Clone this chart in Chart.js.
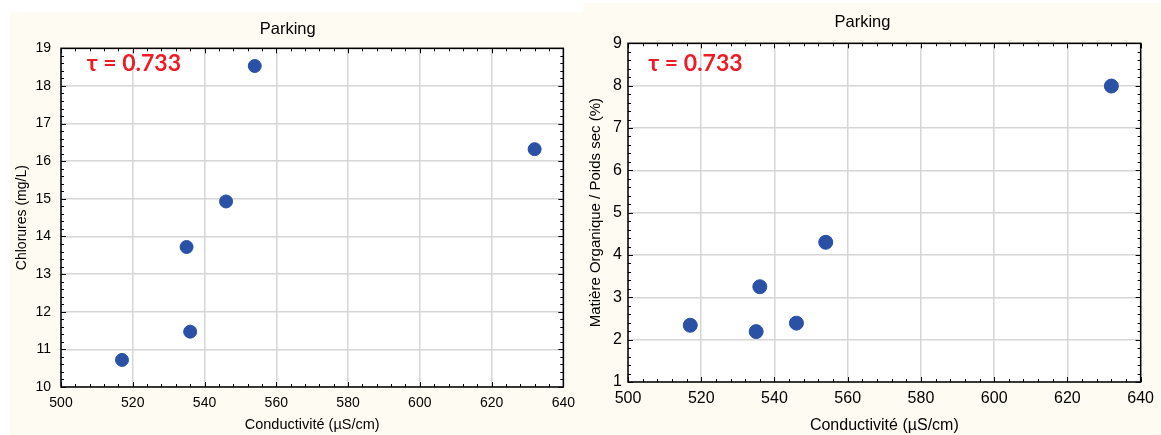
<!DOCTYPE html>
<html>
<head>
<meta charset="utf-8">
<script src="https://cdn.jsdelivr.net/npm/chart.js@4.4.1/dist/chart.umd.min.js"></script>
<style>
  html, body { margin: 0; padding: 0; background: #fff; }
  body { width: 1161px; height: 435px; position: relative; overflow: hidden; }
  .panel { position: absolute; background: #fefbf3; }
  #leftBox { left: 10px; top: 12px; width: 573px; height: 423px; }
  #rightBox { left: 583px; top: 3px; width: 578px; height: 432px; }
</style>
</head>
<body>
<div class="panel" id="leftBox"><canvas id="chlorChart" width="573" height="423"></canvas></div>
<div class="panel" id="rightBox"><canvas id="moChart" width="578" height="432"></canvas></div>
<script>
// data (same samples, same x)
const conductivite = [517, 535, 536, 546, 554, 632];
const chlorures = [10.72, 13.72, 11.47, 14.93, 18.53, 16.32];
const matiereOrg = [2.34, 2.19, 3.25, 2.39, 4.30, 7.99];

// tick labels
const xTicks = [500, 520, 540, 560, 580, 600, 620, 640];
const chlorTicks = [10, 11, 12, 13, 14, 15, 16, 17, 18, 19];
const moTicks = [1, 2, 3, 4, 5, 6, 7, 8, 9];

const chartTitle = "Parking";
const xLabel = "Conductivité (µS/cm)";
const tauText = "τ = 0.733";

const FONT = "'Liberation Sans', Arial, sans-serif";
const pointBlue = "#2a51a6";

// white plot area, full black frame, inward minor ticks, tau note
const framePlugin = {
    id: 'frame',
    beforeDraw: function(chart) {
        const a = chart.chartArea, ctx = chart.ctx;
        ctx.save();
        ctx.fillStyle = "#ffffff";
        ctx.fillRect(a.left, a.top, a.right - a.left, a.bottom - a.top);
        ctx.restore();
    },
    afterDraw: function(chart, args, opts) {
        const a = chart.chartArea, ctx = chart.ctx;
        const xs = chart.scales.x, ys = chart.scales.y;
        ctx.save();
        ctx.strokeStyle = "#000";
        ctx.lineWidth = 1;

        // x ticks on bottom and top
        let n = Math.round((xs.max - xs.min) / opts.xStep);
        for (let i = 0; i <= n; i++) {
            let v = xs.min + i * opts.xStep;
            let len = (Math.abs(v % 20) < 1e-6) ? 5 : 3;
            let px = Math.round(xs.getPixelForValue(v)) + 0.5;
            ctx.beginPath();
            ctx.moveTo(px, a.bottom); ctx.lineTo(px, a.bottom - len);
            ctx.moveTo(px, a.top); ctx.lineTo(px, a.top + len);
            ctx.stroke();
        }
        // y ticks on left and right
        n = Math.round((ys.max - ys.min) / opts.yStep);
        for (let i = 0; i <= n; i++) {
            let len = (i % Math.round(1 / opts.yStep) === 0) ? 5 : 3;
            let py = Math.round(ys.getPixelForValue(ys.min + i * opts.yStep)) + 0.5;
            ctx.beginPath();
            ctx.moveTo(a.left, py); ctx.lineTo(a.left + len, py);
            ctx.moveTo(a.right, py); ctx.lineTo(a.right - len, py);
            ctx.stroke();
        }

        ctx.lineWidth = 1.5;
        ctx.strokeRect(a.left, a.top, a.right - a.left, a.bottom - a.top);

        // the kendall tau note
        ctx.fillStyle = "#ee1c25";
        ctx.font = "bold 23px Lato, 'Open Sans', sans-serif";
        ctx.textAlign = "left";
        ctx.textBaseline = "middle";
        ctx.fillText(tauText, opts.tauX, opts.tauY);
        ctx.restore();
    }
};

function makeChart(id, yValues, yTicks, yLabel, d) {
    let pts = conductivite.map(function(x, i) { return {x: x, y: yValues[i]}; });
    return new Chart(document.getElementById(id), {
        type: 'scatter',
        plugins: [framePlugin],
        data: {
            datasets: [{
                data: pts,
                backgroundColor: pointBlue,
                borderColor: pointBlue,
                pointRadius: d.radius,
                pointHoverRadius: d.radius
            }]
        },
        options: {
            responsive: false,
            animation: false,
            layout: { padding: { left: 0, right: d.padRight, top: 0, bottom: 0 } },
            plugins: {
                legend: { display: false },
                tooltip: { enabled: false },
                title: {
                    display: true,
                    text: chartTitle,
                    color: "#000",
                    font: { family: FONT, size: 16.5, weight: 'normal' },
                    padding: d.titlePad
                },
                frame: { xStep: 4, yStep: 0.2, tauX: d.tauX, tauY: d.tauY }
            },
            scales: {
                x: {
                    type: 'linear',
                    min: xTicks[0],
                    max: xTicks[xTicks.length - 1],
                    afterBuildTicks: function(s) { s.ticks = xTicks.map(function(v) { return {value: v}; }); },
                    afterFit: function(s) { s.height = d.xHeight; },
                    grid: { color: "#d6d6d6", lineWidth: 1.5, drawTicks: false },
                    border: { display: false },
                    ticks: { color: "#000", padding: d.xTickPad, maxRotation: 0, font: { family: FONT, size: d.tickSize } },
                    title: {
                        display: true,
                        text: xLabel,
                        color: "#000",
                        font: { family: FONT, size: d.axisTitleSize },
                        padding: { top: 0, bottom: d.xTitlePadBottom }
                    }
                },
                y: {
                    type: 'linear',
                    min: yTicks[0],
                    max: yTicks[yTicks.length - 1],
                    afterBuildTicks: function(s) { s.ticks = yTicks.map(function(v) { return {value: v}; }); },
                    afterFit: function(s) { s.width = d.yWidth; },
                    grid: { color: "#d6d6d6", lineWidth: 1.5, drawTicks: false },
                    border: { display: false },
                    ticks: { color: "#000", padding: d.yTickPad, font: { family: FONT, size: d.tickSize } },
                    title: {
                        display: true,
                        text: yLabel,
                        color: "#000",
                        font: { family: FONT, size: d.yTitleSize },
                        padding: { top: d.yTitlePadTop, bottom: 0 }
                    }
                }
            }
        }
    });
}

var chlorChart = makeChart('chlorChart', chlorures, chlorTicks, "Chlorures (mg/L)", {
    radius: 6.5, padRight: 17.5, xHeight: 48, yWidth: 51,
    titlePad: { top: 7.4, bottom: 9.1 },
    tickSize: 14, xTickPad: 8, yTickPad: 10,
    axisTitleSize: 14.5, xTitlePadBottom: 1,
    yTitleSize: 14, yTitlePadTop: 3.6,
    tauX: 76.7, tauY: 51.3
});

var moChart = makeChart('moChart', matiereOrg, moTicks, "Matière Organique / Poids sec (%)", {
    radius: 7, padRight: 19, xHeight: 53, yWidth: 45,
    titlePad: { top: 9.5, bottom: 11 },
    tickSize: 16, xTickPad: 7, yTickPad: 6,
    axisTitleSize: 16, xTitlePadBottom: 0,
    yTitleSize: 15, yTitlePadTop: 4,
    tauX: 65.3, tauY: 60.3
});
</script>
</body>
</html>
